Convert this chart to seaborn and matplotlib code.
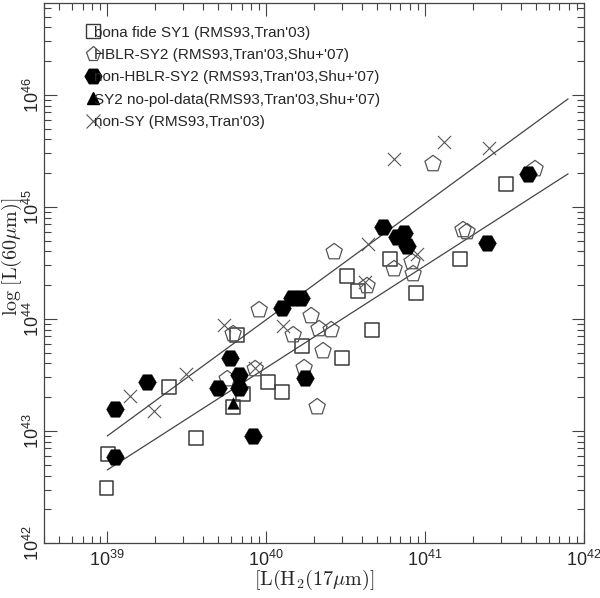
import numpy as np
import pandas as pd
import matplotlib
matplotlib.use("Agg")
import matplotlib.pyplot as plt
import seaborn as sns
from matplotlib.ticker import LogLocator, NullFormatter, LogFormatterMathtext
from matplotlib.lines import Line2D

# ---- data (log10 luminosities) ----
sy1_x = [38.994, 39.006, 39.390, 39.560, 39.792, 39.855, 39.818, 40.013, 40.101,
         40.226, 40.478, 40.509, 40.579, 40.667, 40.780, 40.943, 41.220, 41.509]
sy1_y = [42.491, 42.795, 43.393, 42.938, 43.214, 43.330, 43.857, 43.438, 43.348,
         43.759, 43.652, 44.384, 44.250, 43.902, 44.536, 44.232, 44.536, 45.205]

hblr_x = [39.956, 40.283, 39.792, 40.170, 40.333, 40.409, 40.358, 40.239, 39.931, 39.755,
          40.321, 40.428, 40.805, 40.918, 40.925, 40.635, 41.050, 41.692, 41.239, 41.264]
hblr_y = [44.080, 44.027, 43.866, 43.857, 43.911, 43.902, 43.714, 43.563, 43.554, 43.464,
          43.214, 44.598, 44.446, 44.509, 44.402, 44.295, 45.384, 45.339, 44.795, 44.777]

nhblr_x = [39.050, 39.252, 39.050, 39.774, 39.698, 39.830, 39.830, 39.918, 40.101,
           40.164, 40.220, 40.736, 40.824, 40.868, 40.887, 40.245, 41.648, 41.390]
nhblr_y = [43.196, 43.438, 42.768, 43.652, 43.384, 43.500, 43.384, 42.955, 44.098,
           44.188, 44.188, 44.821, 44.732, 44.768, 44.652, 43.473, 45.295, 44.679]

nopol_x = [39.792]
nopol_y = [43.250]

nonsy_x = [39.145, 39.296, 39.497, 39.736, 39.931, 40.107, 40.623, 40.642, 40.805,
           41.119, 41.403, 40.950]
nonsy_y = [43.313, 43.179, 43.509, 43.946, 43.563, 43.938, 44.330, 44.670, 45.429,
           45.580, 45.527, 44.580]

# two fitted relations (log10 endpoints)
fit_x = [39.0, 41.90]
fit_upper_y = [42.955, 45.964]
fit_lower_y = [42.652, 45.295]

labels = ["bona fide SY1 (RMS93,Tran'03)",
          "HBLR-SY2 (RMS93,Tran'03,Shu+'07)",
          "non-HBLR-SY2 (RMS93,Tran'03,Shu+'07)",
          "SY2 no-pol-data(RMS93,Tran'03,Shu+'07)",
          "non-SY (RMS93,Tran'03)"]

sns.set_style("ticks")
plt.rcParams["mathtext.fontset"] = "cm"
plt.rcParams["font.family"] = ["Liberation Sans", "DejaVu Sans"]

fig = plt.figure(figsize=(6.0, 5.98), dpi=100)
ax = fig.add_axes([44/600, 1-543/598, 540/600, 540/598])

def df(x, y):
    return pd.DataFrame({"x": 10**np.array(x), "y": 10**np.array(y)})

edge = "#3a3a3a"
sns.scatterplot(data=df(sy1_x, sy1_y), x="x", y="y", ax=ax, marker="s", s=95,
                facecolor="none", edgecolor=edge, linewidth=1.1, zorder=3)
sns.scatterplot(data=df(hblr_x, hblr_y), x="x", y="y", ax=ax, marker="p", s=150,
                facecolor="none", edgecolor="#555555", linewidth=0.9, zorder=3)
sns.scatterplot(data=df(nonsy_x, nonsy_y), x="x", y="y", ax=ax, marker="x", s=90,
                color="#555555", linewidth=0.8, zorder=3)
sns.scatterplot(data=df(nhblr_x, nhblr_y), x="x", y="y", ax=ax, marker="H", s=165,
                color="black", edgecolor="black", linewidth=0.3, zorder=4)
sns.scatterplot(data=df(nopol_x, nopol_y), x="x", y="y", ax=ax, marker="^", s=70,
                color="black", edgecolor="black", linewidth=0.3, zorder=5)

fx = 10**np.array(fit_x)
sns.lineplot(x=fx, y=10**np.array(fit_upper_y), ax=ax, color="#444444", lw=0.9, zorder=2)
sns.lineplot(x=fx, y=10**np.array(fit_lower_y), ax=ax, color="#444444", lw=0.9, zorder=2)

ax.set_xscale("log")
ax.set_yscale("log")
ax.set_xlim(4.0e38, 1e42)
ax.set_ylim(1e42, 6.6e46)

ax.xaxis.set_major_locator(LogLocator(base=10, numticks=10))
ax.yaxis.set_major_locator(LogLocator(base=10, numticks=10))
ax.xaxis.set_minor_locator(LogLocator(base=10, subs=np.arange(2, 10), numticks=20))
ax.yaxis.set_minor_locator(LogLocator(base=10, subs=np.arange(2, 10), numticks=20))
ax.xaxis.set_minor_formatter(NullFormatter())
ax.yaxis.set_minor_formatter(NullFormatter())
ax.xaxis.set_major_formatter(LogFormatterMathtext())
ax.yaxis.set_major_formatter(LogFormatterMathtext())

ax.tick_params(which="both", direction="in", top=True, right=True, color="#444444")
ax.tick_params(which="major", length=9, width=0.8, labelsize=13)
ax.tick_params(axis="x", which="major", pad=5)
ax.tick_params(axis="y", which="major", pad=1)
ax.tick_params(which="minor", length=5, width=0.8)
for lab in ax.get_yticklabels():
    lab.set_rotation(90)
    lab.set_va("center")
for sp in ax.spines.values():
    sp.set_color("#444444")
    sp.set_linewidth(0.9)

ax.set_xlabel(r"$[\mathrm{L(H_2(17\mu m)}]$", fontsize=14.5, va="center")
ax.set_ylabel(r"$\mathrm{log}\;[\mathrm{L(60\mu m)}]$", fontsize=14.5, va="center")
ax.xaxis.set_label_coords(0.5, -0.068)
ax.yaxis.set_label_coords(-0.059, 0.53)

handles = [
    Line2D([], [], ls="none", marker="s", ms=9.5, mfc="none", mec=edge, mew=1.0),
    Line2D([], [], ls="none", marker="p", ms=11, mfc="none", mec="#555555", mew=0.9),
    Line2D([], [], ls="none", marker="H", ms=12, mfc="black", mec="black"),
    Line2D([], [], ls="none", marker="^", ms=9, mfc="black", mec="black"),
    Line2D([], [], ls="none", marker="x", ms=9.5, mec="#555555", mew=0.8),
]
leg = ax.legend(handles, labels, loc="upper left", bbox_to_anchor=(0.06, 0.978),
                frameon=False, fontsize=11, handlelength=0.8, handletextpad=-0.35,
                labelspacing=0.55, borderpad=0.2)

fig.savefig("out.png", dpi=100)
